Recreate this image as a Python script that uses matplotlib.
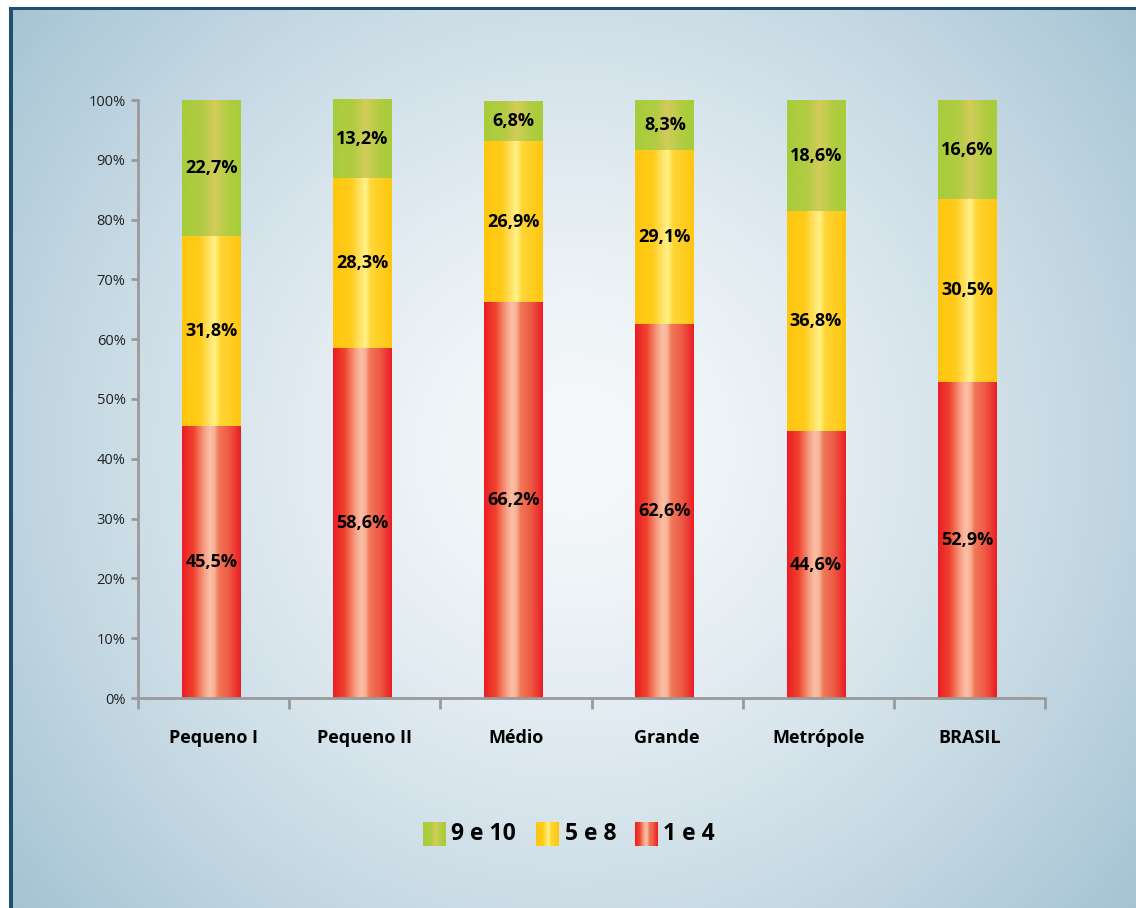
import numpy as np
import matplotlib
matplotlib.use("Agg")
import matplotlib.pyplot as plt
from matplotlib.colors import LinearSegmentedColormap
from matplotlib.patches import Rectangle

plt.rcParams['font.family'] = ['Open Sans', 'DejaVu Sans']

categories = ["Pequeno I", "Pequeno II", "Médio", "Grande", "Metrópole", "BRASIL"]
nota_1_4 = [45.5, 58.6, 66.2, 62.6, 44.6, 52.9]
nota_5_8 = [31.8, 28.3, 26.9, 29.1, 36.8, 30.5]
nota_9_10 = [22.7, 13.2, 6.8, 8.3, 18.6, 16.6]
series_labels = ["1 e 4", "5 e 8", "9 e 10"]
yticks = [0, 10, 20, 30, 40, 50, 60, 70, 80, 90, 100]

W, H = 1136, 908
fig = plt.figure(figsize=(W / 100, H / 100), dpi=100)
fig.patch.set_facecolor("white")

# Background panel with a radial gradient
bg = fig.add_axes([12 / W, 0, 1 - 12 / W, (H - 9) / H], zorder=0)
nx, ny = 400, 320
xx, yy = np.meshgrid(np.linspace(12, W, nx), np.linspace(9, H, ny))
r = np.hypot(xx - 575, yy - 450) / 720.0
t = np.clip(r, 0, 1) ** 1.4
c0 = np.array([246, 249, 251]) / 255
c1 = np.array([166, 196, 212]) / 255
img = c0[None, None, :] * (1 - t[..., None]) + c1[None, None, :] * t[..., None]
bg.imshow(img, extent=[0, 1, 0, 1], aspect="auto", origin="upper")
bg.set_axis_off()

# Frame lines on top and left
border = "#1f5070"
fig.add_artist(Rectangle((9 / W, 0), 3.5 / W, (H - 6.5) / H, transform=fig.transFigure,
                         facecolor=border, edgecolor="none", zorder=5))
fig.add_artist(Rectangle((9 / W, (H - 10) / H), 1 - 9 / W, 3.5 / H, transform=fig.transFigure,
                         facecolor=border, edgecolor="none", zorder=5))

# Cylinder-like colour ramps for the bars
cmap_red = LinearSegmentedColormap.from_list("red", [
    (0.0, "#ec1c24"), (0.2, "#f0442e"), (0.38, "#f6a084"), (0.47, "#fbc0a6"),
    (0.55, "#f7b296"), (0.62, "#f07858"), (0.8, "#ee5a44"), (1.0, "#ec1c24")])
cmap_yel = LinearSegmentedColormap.from_list("yel", [
    (0.0, "#ffc60e"), (0.3, "#ffcc1a"), (0.45, "#ffe060"), (0.55, "#fff38a"),
    (0.65, "#ffd536"), (1.0, "#ffc60e")])
cmap_grn = LinearSegmentedColormap.from_list("grn", [
    (0.0, "#a8cc3a"), (0.35, "#b2cc44"), (0.55, "#d4cb5a"), (0.65, "#c4cc50"),
    (0.8, "#b0cd40"), (1.0, "#a8cc3a")])
ramp = np.linspace(0, 1, 256)[None, :]

ax = fig.add_axes([138 / W, 1 - 698 / H, (1045 - 138) / W, (698 - 100) / H], zorder=1)
ax.patch.set_alpha(0)

x = np.arange(len(categories)) - 0.015
bw = 0.39
stack = [(nota_1_4, cmap_red), (nota_5_8, cmap_yel), (nota_9_10, cmap_grn)]
bottom = np.zeros(len(categories))
for vals, cmap in stack:
    vals = np.array(vals)
    bars = ax.bar(x, vals, bw, bottom=bottom, color="none", edgecolor="none")
    for rect, v, b in zip(bars, vals, bottom):
        x0 = rect.get_x()
        im = ax.imshow(ramp, cmap=cmap, extent=[x0, x0 + bw, b, b + v],
                       aspect="auto", interpolation="bilinear", zorder=2)
        im.set_clip_path(rect)
        ax.text(x0 + bw / 2, b + v / 2, f"{v:.1f}".replace(".", ",") + "%",
                ha="center", va="center", fontsize=13, fontweight="bold",
                color="black", zorder=3)
    bottom = bottom + vals

ax.set_xlim(-0.5, len(categories) - 0.5)
ax.set_ylim(0, 100)
ax.set_yticks(yticks)
ax.set_yticklabels([f"{v}%" for v in yticks], fontsize=10.5, color="#222222")
ax.set_xticks(np.arange(-0.5, len(categories), 1.0))
ax.set_xticklabels([])
ax.set_xticks(np.arange(len(categories)), minor=True)
ax.set_xticklabels(categories, minor=True, fontsize=13, fontweight="bold")
ax.tick_params(axis="x", which="major", length=8, width=2, color="#9a9a9a", direction="out")
ax.tick_params(axis="x", which="minor", length=0, pad=22)
ax.tick_params(axis="y", length=5, width=2, color="#9a9a9a", pad=4)
for s in ["top", "right"]:
    ax.spines[s].set_visible(False)
for s in ["left", "bottom"]:
    ax.spines[s].set_color("#9a9a9a")
    ax.spines[s].set_linewidth(2)

# Legend with gradient swatches
legend_items = [("9 e 10", cmap_grn, 423, 451), ("5 e 8", cmap_yel, 536, 565),
                ("1 e 4", cmap_red, 635, 663)]
for label, cmap, sx, tx in legend_items:
    sw = fig.add_axes([sx / W, 1 - 846 / H, 23 / W, 24 / H], zorder=2)
    sw.imshow(ramp, cmap=cmap, aspect="auto", interpolation="bilinear")
    sw.set_axis_off()
    fig.text(tx / W, 1 - 834 / H, label, fontsize=16.5, fontweight="bold",
             ha="left", va="center", zorder=3)

fig.savefig("out.png", dpi=100)
